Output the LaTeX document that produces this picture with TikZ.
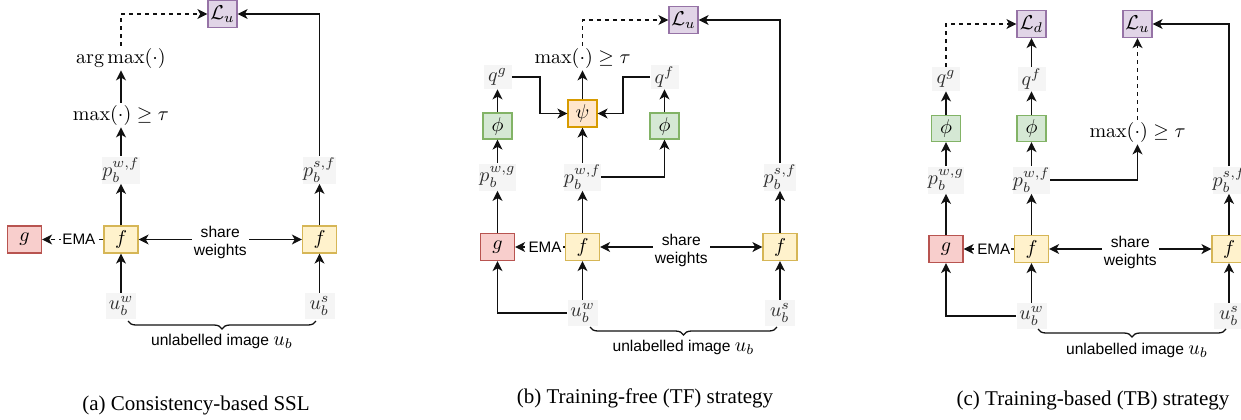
\documentclass[tikz,border=0pt]{standalone}
\usepackage{fontspec}
\newfontfamily\sansf{Liberation Sans}
\newfontfamily\capf{Liberation Serif}
\usetikzlibrary{arrows.meta,decorations.pathreplacing,calc}
\definecolor{fFill}{HTML}{FFF2CC}\definecolor{fDraw}{HTML}{D6B656}
\definecolor{gFill}{HTML}{F8CECC}\definecolor{gDraw}{HTML}{B85450}
\definecolor{lFill}{HTML}{E1D5E7}\definecolor{lDraw}{HTML}{9673A6}
\definecolor{pFill}{HTML}{D5E8D4}\definecolor{pDraw}{HTML}{82B366}
\definecolor{sFill}{HTML}{FFE6CC}\definecolor{sDraw}{HTML}{D79B00}
\definecolor{labFill}{HTML}{F5F5F5}\definecolor{labText}{HTML}{2E2E2E}
\definecolor{lineC}{HTML}{111111}
\newcommand{\ubm}{{\fontsize{10}{12}\selectfont$u_b$}}
\begin{document}
\begin{tikzpicture}[x=0.5pt,y=-0.5pt,
  box/.style={draw, line width=0.6pt, inner sep=0pt, minimum height=13.5pt},
  fbox/.style={box, fill=fFill, draw=fDraw, minimum width=17pt},
  gbox/.style={box, fill=gFill, draw=gDraw, minimum width=17pt},
  lossbox/.style={box, fill=lFill, draw=lDraw, minimum width=14.5pt},
  phibox/.style={box, fill=pFill, draw=pDraw, minimum width=14.5pt, minimum height=13pt},
  psibox/.style={box, fill=sFill, draw=sDraw, minimum width=14.5pt},
  lab/.style={fill=labFill, text=labText, inner sep=0pt, minimum width=15pt, minimum height=13.5pt},
  qlab/.style={lab, minimum width=14pt, minimum height=12pt},
  plain/.style={inner sep=1pt},
  tip/.tip={Stealth[length=5pt,width=5pt,inset=1.4pt]},
  conn/.style={-tip, line width=0.65pt, draw=lineC},
  dconn/.style={conn, dash pattern=on 2pt off 2pt},
  both/.style={tip-tip, line width=0.65pt, draw=lineC},
  sw/.style={font=\sansf\fontsize{7.8}{8.8}\selectfont, fill=white, align=center, inner sep=1pt, yshift=-1.6pt},
  ema/.style={font=\sansf\fontsize{7.6}{9}\selectfont, fill=white, inner sep=0.6pt},
  ul/.style={font=\sansf\fontsize{7.8}{9}\selectfont, inner sep=0pt},
  captxt/.style={font=\capf\fontsize{10.5}{12}\selectfont},
  brc/.style={decorate, decoration={brace, mirror, amplitude=4pt}, line width=0.65pt, draw=lineC}
]
\useasboundingbox (0,0) rectangle (1241,419);

% ================= Panel (a) =================
\node[lossbox] (La) at (222.5,14) {$\mathcal{L}_u$};
\node[plain] (arga) at (121,58) {$\arg\max(\cdot)$};
\node[plain] (maxa) at (121,115) {$\max(\cdot)\geq\tau$};
\node[lab] (pwfa) at (121,170) {$p_b^{w,f}$};
\node[lab] (psfa) at (319.5,170) {$p_b^{s,f}$};
\node[gbox] (ga) at (24.5,239.5) {$g$};
\node[fbox] (fa1) at (121,239.5) {$f$};
\node[fbox] (fa2) at (319.5,239.5) {$f$};
\node[lab, minimum height=13pt] (uwa) at (121,306) {$u_b^w$};
\node[lab, minimum height=13pt] (usa) at (319.5,306) {$u_b^s$};

\draw[conn] (uwa) -- (fa1);
\draw[conn] (usa) -- (fa2);
\draw[conn] (fa1) -- (pwfa);
\draw[conn] (fa2) -- (psfa);
\draw[conn] (pwfa) -- (maxa);
\draw[conn] (maxa) -- (arga);
\draw[dconn] (arga.north) |- (La.west);
\draw[conn] (psfa.north) |- (La.east);
\draw[dconn] (fa1) -- node[ema, pos=0.4] {EMA} (ga);
\draw[both] (fa1) -- node[sw] {share\\weights} (fa2);
\draw[brc] (128,321) -- (316,321);
\node[ul] (ula) at (222,341) {unlabelled image \ubm};
\node[captxt] (capa) at (196,405) {(a) Consistency-based SSL};

% ================= Panel (b) =================
\node[lossbox] (Lb) at (683.5,20) {$\mathcal{L}_u$};
\node[plain] (maxb) at (582.5,58) {$\max(\cdot)\geq\tau$};
\node[qlab] (qgb) at (497.5,77) {$q^g$};
\node[qlab] (qfb) at (664.5,77) {$q^f$};
\node[psibox] (psib) at (582.5,113.5) {$\psi$};
\node[phibox] (phib1) at (497.5,126) {$\phi$};
\node[phibox] (phib2) at (664.5,126) {$\phi$};
\node[lab] (pwgb) at (497.5,177) {$p_b^{w,g}$};
\node[lab] (pwfb) at (582.5,177) {$p_b^{w,f}$};
\node[lab] (psfb) at (780,177) {$p_b^{s,f}$};
\node[gbox] (gb) at (497.5,247) {$g$};
\node[fbox] (fb1) at (582.5,247) {$f$};
\node[fbox] (fb2) at (780,247) {$f$};
\node[lab, minimum height=13pt] (uwb) at (582.5,313) {$u_b^w$};
\node[lab, minimum height=13pt] (usb) at (780,313) {$u_b^s$};

\draw[conn] (uwb) -- (fb1);
\draw[conn] (uwb.west) -| (gb.south);
\draw[conn] (usb) -- (fb2);
\draw[conn] (gb) -- (pwgb);
\draw[conn] (pwgb) -- (phib1);
\draw[conn] (phib1) -- (qgb);
\draw[conn] (fb1) -- (pwfb);
\draw[conn] (pwfb) -- (psib);
\draw[conn] (psib) -- (maxb);
\draw[conn] (pwfb.east) -| (phib2.south);
\draw[conn] (phib2) -- (qfb);
\draw[conn] (fb2) -- (psfb);
\draw[conn] (qgb.east) -- (540,77) |- (psib.west);
\draw[conn] (qfb.west) -- (623,77) |- (psib.east);
\draw[dconn] (maxb.north) |- (Lb.west);
\draw[conn] (psfb.north) |- (Lb.east);
\draw[dconn] (fb1) -- node[ema, pos=0.4] {EMA} (gb);
\draw[both] (fb1) -- node[sw] {share\\weights} (fb2);
\draw[brc] (590,327) -- (777,327);
\node[ul] (ulb) at (683.5,347) {unlabelled image \ubm};
\node[captxt] (capb) at (645,398.5) {(b) Training-free (TF) strategy};

% ================= Panel (c) =================
\node[lossbox] (Ldc) at (1031.5,24) {$\mathcal{L}_d$};
\node[lossbox] (Luc) at (1137.5,24) {$\mathcal{L}_u$};
\node[qlab] (qgc) at (946,79) {$q^g$};
\node[qlab] (qfc) at (1031.5,79) {$q^f$};
\node[phibox] (phic1) at (946,128.5) {$\phi$};
\node[phibox] (phic2) at (1031.5,128.5) {$\phi$};
\node[plain] (maxc) at (1137.5,132) {$\max(\cdot)\geq\tau$};
\node[lab] (pwgc) at (946,180) {$p_b^{w,g}$};
\node[lab] (pwfc) at (1031.5,180) {$p_b^{w,f}$};
\node[lab] (psfc) at (1229,180) {$p_b^{s,f}$};
\node[gbox] (gc) at (946,249) {$g$};
\node[fbox] (fc1) at (1031.5,249) {$f$};
\node[fbox] (fc2) at (1229,249) {$f$};
\node[lab, minimum height=13pt] (uwc) at (1031.5,316) {$u_b^w$};
\node[lab, minimum height=13pt] (usc) at (1229,316) {$u_b^s$};

\draw[conn] (uwc) -- (fc1);
\draw[conn] (uwc.west) -| (gc.south);
\draw[conn] (usc) -- (fc2);
\draw[conn] (gc) -- (pwgc);
\draw[conn] (pwgc) -- (phic1);
\draw[conn] (phic1) -- (qgc);
\draw[dconn] (qgc.north) |- (Ldc.west);
\draw[conn] (fc1) -- (pwfc);
\draw[conn] (pwfc) -- (phic2);
\draw[conn] (phic2) -- (qfc);
\draw[conn] (qfc) -- (Ldc);
\draw[conn] (pwfc.east) -| (maxc.south);
\draw[dconn] (maxc) -- (Luc);
\draw[conn] (fc2) -- (psfc);
\draw[conn] (psfc.north) |- (Luc.east);
\draw[dconn] (fc1) -- node[ema, pos=0.4] {EMA} (gc);
\draw[both] (fc1) -- node[sw] {share\\weights} (fc2);
\draw[brc] (1038,329) -- (1226,329);
\node[ul] (ulc) at (1137,350) {unlabelled image \ubm};
\node[captxt] (capc) at (1093,400) {(c) Training-based (TB) strategy};
\end{tikzpicture}
\end{document}
